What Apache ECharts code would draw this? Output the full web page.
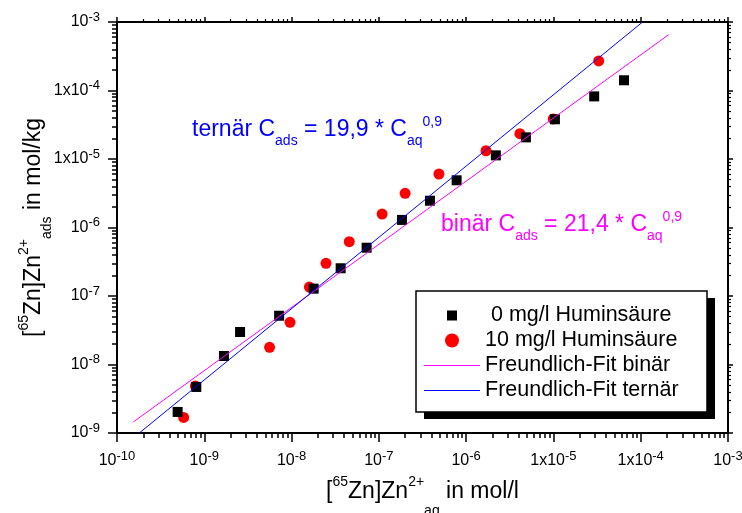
<!DOCTYPE html>
<html>
<head>
<meta charset="utf-8">
<script src="https://cdn.jsdelivr.net/npm/echarts@6/dist/echarts.min.js"></script>
<style>
html, body { margin: 0; padding: 0; background: #fff; }
#chart { width: 742px; height: 513px; }
</style>
</head>
<body>
<div id="chart"></div>
<script>
// Sorption of [65Zn]Zn2+ : adsorbed vs. dissolved concentration, log-log

// 0 mg/l humic acid
const cAq0  = [4.95e-10, 8.1e-10, 1.68e-9, 2.57e-9, 7.2e-9, 1.79e-8, 3.65e-8, 7.24e-8,
               1.84e-7, 3.85e-7, 7.78e-7, 2.19e-6, 4.84e-6, 1.04e-5, 2.93e-5, 6.43e-5];
const cAds0 = [2.03e-9, 4.7e-9, 1.33e-8, 2.98e-8, 5.15e-8, 1.28e-7, 2.54e-7, 5.07e-7,
               1.29e-6, 2.46e-6, 4.89e-6, 1.13e-5, 2.07e-5, 3.8e-5, 8.2e-5, 1.41e-4];

// 10 mg/l humic acid
const cAq10  = [5.8e-10, 7.9e-10, 5.6e-9, 9.6e-9, 1.6e-8, 2.48e-8, 4.58e-8, 1.09e-7,
                2.0e-7, 4.88e-7, 1.69e-6, 4.13e-6, 9.96e-6, 3.3e-5];
const cAds10 = [1.69e-9, 4.85e-9, 1.78e-8, 4.13e-8, 1.35e-7, 3.0e-7, 6.2e-7, 1.57e-6,
                3.16e-6, 6.04e-6, 1.32e-5, 2.34e-5, 3.84e-5, 2.7e-4];

// Freundlich fit lines (end points)
const fitBinaerX  = [1.54e-10, 2.09e-4];
const fitBinaerY  = [1.45e-9, 6.53e-4];
const fitTernaerX = [1.8e-10, 1.05e-4];
const fitTernaerY = [1.0e-9, 1.0e-3];

// tick labels (mantissa + exponent)
const xTickMantissa = ['10', '10', '10', '10', '10', '1x10', '1x10', '10'];
const xTickExponent = ['-10', '-9', '-8', '-7', '-6', '-5', '-4', '-3'];
const yTickMantissa = ['10', '10', '10', '10', '1x10', '1x10', '10'];
const yTickExponent = ['-9', '-8', '-7', '-6', '-5', '-4', '-3'];
const minorSteps = [2, 3, 4, 5, 6, 7, 8, 9];

const seriesNames = ['0 mg/l Huminsäure', '10 mg/l Huminsäure',
                     'Freundlich-Fit binär', 'Freundlich-Fit ternär'];

const FONT = 'Liberation Sans, Arial, Helvetica, sans-serif';

// legend frame with hard drop shadow
const legendBox = { x: 416, y: 291, w: 291, h: 121, shadowDx: 8, shadowDy: 7 };

function minorValues(fromExp, toExp) {
  const out = [];
  for (let e = fromExp; e < toExp; e++) {
    minorSteps.forEach(m => out.push(m * Math.pow(10, e)));
  }
  return out;
}
const minorX = minorValues(-10, -3);
const minorY = minorValues(-9, -3);

const zip = (a, b) => a.map((v, i) => [v, b[i]]);

const tickRich = {
  e: { fontSize: 13, lineHeight: 14, padding: [0, 0, 10, 0], fontFamily: FONT, color: '#000' }
};

function baseAxis(extra) {
  return Object.assign({
    type: 'log',
    logBase: 10,
    splitLine: { show: false },
    axisLine: { show: false },
    axisLabel: { show: false },
    axisTick: { show: false }
  }, extra);
}

const axisLineStyle = { show: true, onZero: false, lineStyle: { color: '#000', width: 2 } };

const titleRich = {
  sup: { fontSize: 14, lineHeight: 15, padding: [0, 0, 18, 0], fontFamily: FONT, color: '#000' },
  sub: { fontSize: 14, lineHeight: 15, padding: [39, 0, 0, 0], fontFamily: FONT, color: '#000' }
};
const yTitleRich = {
  sup: { fontSize: 14, lineHeight: 15, padding: [0, 0, 18, 0], fontFamily: FONT, color: '#000' },
  sub: { fontSize: 14, lineHeight: 15, padding: [28, 0, 0, 0], fontFamily: FONT, color: '#000' }
};

const xAxes = [
  baseAxis({
    min: 1e-10, max: 1e-3, splitNumber: 7, position: 'bottom',
    axisLine: axisLineStyle,
    axisTick: { show: true, inside: false, length: 9, lineStyle: { color: '#000', width: 1.5 } },
    axisLabel: {
      show: true, margin: 19, fontSize: 16, lineHeight: 18, fontFamily: FONT, color: '#000',
      formatter: v => {
        const i = Math.round(Math.log10(v)) + 10;
        return xTickMantissa[i] + '{e|' + xTickExponent[i] + '}';
      },
      rich: tickRich
    },
    name: '[{sup|65}Zn]Zn{sup|2+}{sub|aq} in mol/l',
    nameLocation: 'middle',
    nameMoveOverlap: false,
    nameGap: 46,
    nameTextStyle: { fontSize: 23, lineHeight: 25, fontFamily: FONT, color: '#000', rich: titleRich }
  }),
  baseAxis({
    min: 1e-10, max: 1e-3, splitNumber: 7, position: 'bottom',
    axisTick: { show: true, inside: false, length: 5, customValues: minorX,
                lineStyle: { color: '#000', width: 1.5 } }
  }),
  baseAxis({
    min: 1e-10, max: 1e-3, splitNumber: 7, position: 'top',
    axisLine: axisLineStyle,
    axisTick: { show: true, inside: false, length: 5, lineStyle: { color: '#000', width: 1.5 } }
  }),
  baseAxis({
    min: 1e-10, max: 1e-3, splitNumber: 7, position: 'top',
    axisTick: { show: true, inside: false, length: 3, customValues: minorX,
                lineStyle: { color: '#000', width: 1.2 } }
  })
];

const yAxes = [
  baseAxis({
    min: 1e-9, max: 1e-3, splitNumber: 6, position: 'left',
    axisLine: axisLineStyle,
    axisTick: { show: true, inside: false, length: 9, lineStyle: { color: '#000', width: 1.5 } },
    axisLabel: {
      show: true, margin: 17, fontSize: 16, lineHeight: 18, fontFamily: FONT, color: '#000',
      formatter: v => {
        const i = Math.round(Math.log10(v)) + 9;
        return yTickMantissa[i] + '{e|' + yTickExponent[i] + '}';
      },
      rich: tickRich
    },
    name: '[{sup|65}Zn]Zn{sup|2+}{sub|ads} in mol/kg',
    nameLocation: 'middle',
    nameMoveOverlap: false,
    nameGap: 71,
    nameTextStyle: { fontSize: 23, lineHeight: 25, fontFamily: FONT, color: '#000', rich: yTitleRich }
  }),
  baseAxis({
    min: 1e-9, max: 1e-3, splitNumber: 6, position: 'left',
    axisTick: { show: true, inside: false, length: 5, customValues: minorY,
                lineStyle: { color: '#000', width: 1.5 } }
  }),
  baseAxis({
    min: 1e-9, max: 1e-3, splitNumber: 6, position: 'right',
    axisLine: axisLineStyle,
    axisTick: { show: true, inside: false, length: 5, lineStyle: { color: '#000', width: 1.5 } }
  }),
  baseAxis({
    min: 1e-9, max: 1e-3, splitNumber: 6, position: 'right',
    axisTick: { show: true, inside: false, length: 3, customValues: minorY,
                lineStyle: { color: '#000', width: 1.2 } }
  })
];

const annoRich = (color) => ({
  sub: { fontSize: 14, lineHeight: 16, padding: [23, 0, 0, 0], fontFamily: FONT, fill: color },
  sup: { fontSize: 14, lineHeight: 16, padding: [0, 0, 15, 0], fontFamily: FONT, fill: color }
});

const lineIcon = 'path://M0,0L56,0L56,1.2L0,1.2Z';

const option = {
  animation: false,
  backgroundColor: '#fff',
  grid: { left: 117, right: 14, top: 22, bottom: 80, outerBoundsMode: 'none', containLabel: false },
  xAxis: xAxes,
  yAxis: yAxes,
  legend: {
    orient: 'vertical',
    left: legendBox.x,
    top: legendBox.y,
    z: 12,
    itemWidth: 56,
    itemHeight: 14,
    itemGap: 0,
    padding: [12, 26, 10, 8],
    selectedMode: false,
    backgroundColor: 'transparent',
    borderWidth: 0,
    symbolKeepAspect: true,
    textStyle: { fontSize: 21.5, lineHeight: 25, fontFamily: FONT, color: '#000' },
    formatter: name => (name === seriesNames[0] ? ' ' + name : name),
    data: [
      { name: seriesNames[0], icon: 'path://M-2,-2M12,12M0,0L10,0L10,10L0,10Z' },
      { name: seriesNames[1], icon: 'circle' },
      { name: seriesNames[2], icon: lineIcon },
      { name: seriesNames[3], icon: lineIcon }
    ]
  },
  graphic: [
    {
      type: 'rect', z: 10, silent: true,
      shape: { x: legendBox.x + legendBox.shadowDx, y: legendBox.y + legendBox.shadowDy,
               width: legendBox.w, height: legendBox.h },
      style: { fill: '#000' }
    },
    {
      type: 'rect', z: 11, silent: true,
      shape: { x: legendBox.x, y: legendBox.y, width: legendBox.w, height: legendBox.h },
      style: { fill: '#fff', stroke: '#000', lineWidth: 1.5 }
    },
    {
      type: 'text', x: 192, y: 130, z: 10,
      style: {
        text: 'ternär C{sub|ads} = 19,9 * C{sub|aq}{sup|0,9}',
        fontSize: 23, lineHeight: 26, fontFamily: FONT, fill: '#0000ff',
        verticalAlign: 'middle', align: 'left',
        rich: annoRich('#0000ff')
      }
    },
    {
      type: 'text', x: 441, y: 225, z: 10,
      style: {
        text: 'binär C{sub|ads} = 21,4 * C{sub|aq}{sup|0,9}',
        fontSize: 23, lineHeight: 26, fontFamily: FONT, fill: '#ff00ff',
        verticalAlign: 'middle', align: 'left',
        rich: annoRich('#ff00ff')
      }
    }
  ],
  series: [
    {
      name: seriesNames[1], type: 'scatter', xAxisIndex: 0, yAxisIndex: 0,
      symbol: 'circle', symbolSize: 11, z: 2,
      itemStyle: { color: '#ff0000', opacity: 1 },
      data: zip(cAq10, cAds10)
    },
    {
      name: seriesNames[0], type: 'scatter', xAxisIndex: 0, yAxisIndex: 0,
      symbol: 'rect', symbolSize: 10, z: 3,
      itemStyle: { color: '#000000', opacity: 1 },
      data: zip(cAq0, cAds0)
    },
    {
      name: seriesNames[2], type: 'line', xAxisIndex: 0, yAxisIndex: 0,
      symbol: 'none', z: 4, clip: true,
      lineStyle: { color: '#ff00ff', width: 1 }, itemStyle: { color: '#ff00ff' },
      data: zip(fitBinaerX, fitBinaerY)
    },
    {
      name: seriesNames[3], type: 'line', xAxisIndex: 0, yAxisIndex: 0,
      symbol: 'none', z: 4, clip: true,
      lineStyle: { color: '#0000ff', width: 1 }, itemStyle: { color: '#0000ff' },
      data: zip(fitTernaerX, fitTernaerY)
    }
  ]
};

const chart = echarts.init(document.getElementById('chart'), null, { renderer: 'canvas' });
chart.setOption(option);
</script>
</body>
</html>
